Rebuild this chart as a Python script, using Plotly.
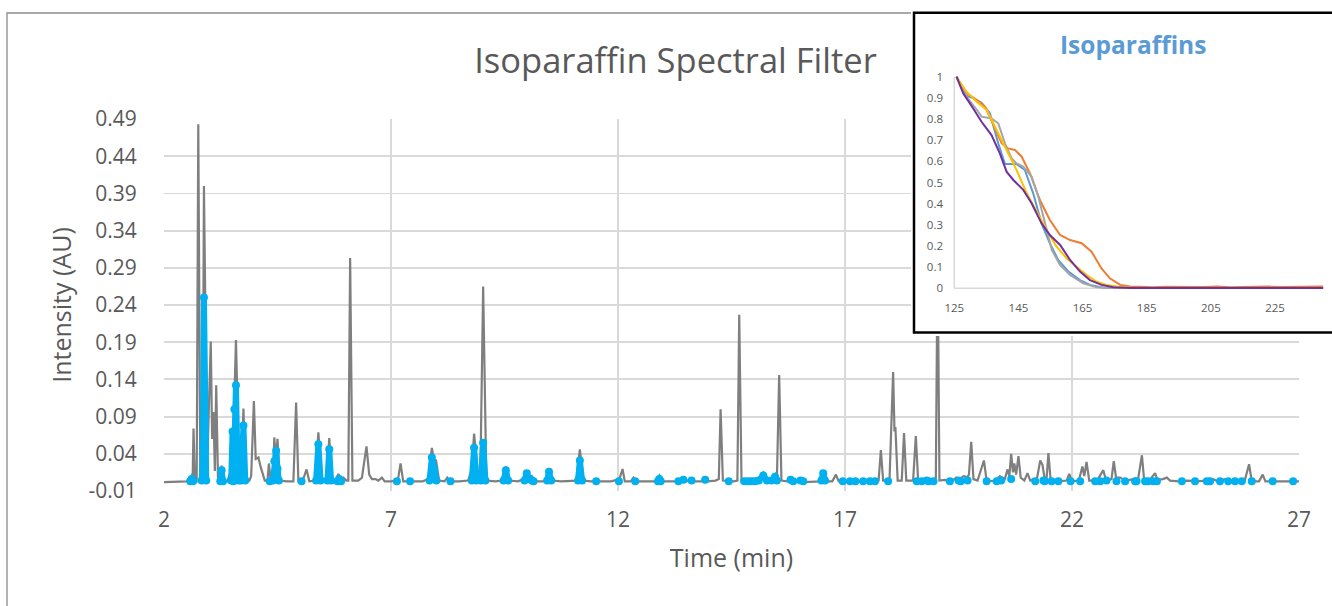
import plotly.graph_objects as go

W, H = 1332, 606

# ---------------- main chromatogram (gray, total signal) ----------------
gray_time = [
    2.00, 2.30, 2.50, 2.56, 2.60, 2.63, 2.65, 2.68, 2.72, 2.755, 2.80, 2.85, 2.88, 2.95,
    3.03, 3.06, 3.09, 3.12, 3.15, 3.19, 3.23, 3.27, 3.31, 3.40, 3.44, 3.48, 3.50, 3.585,
    3.66, 3.70, 3.75, 3.80, 3.88, 3.92, 3.98, 4.02, 4.08, 4.13, 4.18, 4.22, 4.28, 4.31,
    4.35, 4.40, 4.43, 4.46, 4.50, 4.55, 4.70, 4.85, 4.91, 4.96, 5.05, 5.14, 5.20, 5.33,
    5.40, 5.47, 5.58, 5.64, 5.70, 5.78, 5.84, 5.89, 5.95, 6.02, 6.06, 6.10, 6.15, 6.28,
    6.36, 6.46, 6.52, 6.58, 6.66, 6.72, 6.80, 6.86, 7.00, 7.15, 7.21, 7.27, 7.40, 7.55,
    7.70, 7.82, 7.90, 7.95, 7.99, 8.06, 8.18, 8.24, 8.30, 8.50, 8.70, 8.78, 8.83, 8.92,
    8.97, 9.03, 9.10, 9.30, 9.45, 9.53, 9.60, 9.80, 9.92, 9.99, 10.05, 10.10, 10.18, 10.35,
    10.42, 10.48, 10.55, 10.75, 10.95, 11.08, 11.16, 11.24, 11.40, 11.60, 11.85, 12.03, 12.10, 12.15,
    12.28, 12.34, 12.40, 12.60, 12.84, 12.91, 12.97, 13.20, 13.38, 13.44, 13.50, 13.62, 13.68, 13.85,
    13.92, 13.98, 14.15, 14.22, 14.26, 14.31, 14.55, 14.63, 14.67, 14.72, 14.85, 15.00, 15.13, 15.20,
    15.27, 15.40, 15.46, 15.50, 15.55, 15.60, 15.72, 15.79, 15.85, 15.95, 16.01, 16.10, 16.30, 16.45,
    16.52, 16.58, 16.72, 16.80, 16.86, 17.00, 17.30, 17.60, 17.74, 17.79, 17.84, 17.98, 18.06, 18.09,
    18.11, 18.16, 18.25, 18.30, 18.35, 18.50, 18.56, 18.61, 18.70, 18.85, 18.95, 19.00, 19.04, 19.08,
    19.20, 19.35, 19.45, 19.52, 19.62, 19.69, 19.73, 19.78, 19.83, 19.92, 20.06, 20.12, 20.30, 20.41,
    20.52, 20.58, 20.62, 20.66, 20.70, 20.73, 20.77, 20.82, 20.87, 20.95, 21.02, 21.08, 21.15, 21.22,
    21.30, 21.35, 21.40, 21.44, 21.48, 21.53, 21.70, 21.88, 21.94, 22.00, 22.15, 22.23, 22.27, 22.32,
    22.38, 22.55, 22.69, 22.75, 22.87, 22.92, 22.97, 23.06, 23.12, 23.20, 23.35, 23.45, 23.54, 23.59,
    23.70, 23.83, 23.88, 24.00, 24.09, 24.16, 24.35, 24.55, 24.75, 24.95, 25.11, 25.20, 25.37, 25.50,
    25.65, 25.80, 25.90, 25.96, 26.12, 26.20, 26.26, 26.50, 26.75, 27.00,
]
gray_intensity = [
    0.002, 0.002, 0.003, 0.008, 0.004, 0.003, 0.074, 0.003, 0.003, 0.483, 0.004, 0.005, 0.400, 0.020,
    0.191, 0.060, 0.096, 0.017, 0.132, 0.004, 0.004, 0.024, 0.003, 0.003, 0.012, 0.003, 0.004, 0.193,
    0.004, 0.004, 0.101, 0.004, 0.004, 0.010, 0.111, 0.033, 0.035, 0.022, 0.012, 0.004, 0.004, 0.027,
    0.004, 0.010, 0.062, 0.030, 0.060, 0.004, 0.003, 0.003, 0.109, 0.003, 0.003, 0.019, 0.003, 0.004,
    0.069, 0.004, 0.004, 0.061, 0.004, 0.005, 0.013, 0.006, 0.008, 0.004, 0.004, 0.303, 0.004, 0.004,
    0.008, 0.050, 0.012, 0.006, 0.006, 0.004, 0.008, 0.003, 0.003, 0.004, 0.027, 0.003, 0.003, 0.003,
    0.003, 0.006, 0.048, 0.030, 0.032, 0.004, 0.003, 0.008, 0.003, 0.003, 0.004, 0.020, 0.067, 0.010,
    0.020, 0.265, 0.004, 0.003, 0.004, 0.023, 0.004, 0.003, 0.006, 0.017, 0.008, 0.010, 0.003, 0.003,
    0.006, 0.020, 0.004, 0.003, 0.003, 0.004, 0.046, 0.004, 0.003, 0.003, 0.003, 0.006, 0.0195, 0.003,
    0.003, 0.008, 0.003, 0.003, 0.003, 0.008, 0.003, 0.003, 0.003, 0.007, 0.003, 0.006, 0.003, 0.003,
    0.008, 0.003, 0.004, 0.006, 0.100, 0.004, 0.003, 0.004, 0.227, 0.004, 0.003, 0.003, 0.005, 0.011,
    0.004, 0.005, 0.010, 0.005, 0.146, 0.004, 0.003, 0.007, 0.003, 0.003, 0.005, 0.002, 0.003, 0.003,
    0.017, 0.003, 0.003, 0.012, 0.003, 0.002, 0.003, 0.002, 0.004, 0.045, 0.004, 0.004, 0.150, 0.070,
    0.076, 0.004, 0.004, 0.068, 0.004, 0.004, 0.064, 0.005, 0.004, 0.004, 0.006, 0.004, 0.310, 0.004,
    0.005, 0.003, 0.008, 0.006, 0.010, 0.008, 0.012, 0.056, 0.006, 0.004, 0.031, 0.004, 0.003, 0.010,
    0.006, 0.019, 0.010, 0.040, 0.015, 0.027, 0.012, 0.037, 0.008, 0.004, 0.014, 0.004, 0.006, 0.004,
    0.031, 0.025, 0.006, 0.006, 0.041, 0.004, 0.003, 0.004, 0.013, 0.003, 0.004, 0.023, 0.010, 0.029,
    0.004, 0.004, 0.018, 0.004, 0.006, 0.030, 0.008, 0.008, 0.006, 0.004, 0.006, 0.004, 0.038, 0.004,
    0.004, 0.014, 0.005, 0.006, 0.008, 0.004, 0.003, 0.004, 0.003, 0.004, 0.006, 0.003, 0.006, 0.003,
    0.003, 0.003, 0.026, 0.003, 0.003, 0.012, 0.003, 0.003, 0.003, 0.003,
]

# ---------------- isoparaffin-filtered signal (blue, gaps = None) ----------------
blue_time = [
    2.58, 2.61, 2.64, None,
    2.83, 2.86, 2.88, 2.90, 2.93, None,
    3.24, 3.27, 3.30, None,
    3.48, 3.51, 3.53, 3.55, 3.585, 3.62, 3.64, None,
    3.70, 3.75, 3.79, None,
    4.33, None,
    4.40, 4.43, 4.47, 4.50, 4.53, None,
    5.03, None,
    5.35, 5.40, 5.45, None,
    5.60, 5.64, 5.68, None,
    5.82, 5.86, 5.90, None,
    7.13, None, 7.42, None,
    7.85, 7.90, 7.95, 8.00, None,
    8.31, None,
    8.78, 8.83, 8.88, None,
    8.98, 9.03, 9.08, None,
    9.48, 9.53, 9.58, None,
    9.94, 9.99, 10.05, 10.10, 10.14, None,
    10.44, 10.48, 10.53, None,
    11.12, 11.16, 11.21, None,
    11.52, None, 12.02, None, 12.38, None,
    12.88, 12.91, 12.94, None,
    13.33, None, 13.44, None, 13.62, None, 13.92, None, 14.44, None,
    14.78, 14.86, 14.94, 15.02, 15.10, 15.20, 15.28, None,
    15.38, 15.46, 15.50, None,
    15.80, 15.86, None, 16.02, 16.08, None,
    16.48, 16.52, 16.56, None,
    16.95, None, 17.11, None, 17.23, None, 17.40, None, 17.55, None, 17.66, None, 17.95, None,
    18.58, None, 18.69, None, 18.80, 18.84, None, 18.95, None,
    19.31, None, 19.50, 19.55, None, 19.70, None, 20.12, None, 20.34, None, 20.44, None,
    20.66, None, 21.19, None, 21.37, 21.40, None, 21.55, None, 21.70, None, 21.97, None,
    22.18, None, 22.51, None, 22.62, None, 22.76, None, 22.98, None, 23.17, None,
    23.39, 23.42, None, 23.61, 23.68, None, 23.79, 23.87, None, 24.42, None, 24.71, None,
    24.97, 25.04, None, 25.26, None, 25.44, None, 25.59, None, 25.74, None, 25.96, None,
    26.42, None, 26.87,
]
blue_intensity = [
    0.003, 0.006, 0.003, None,
    0.004, 0.050, 0.250, 0.050, 0.004, None,
    0.003, 0.018, 0.003, None,
    0.004, 0.070, 0.003, 0.100, 0.132, 0.020, 0.004, None,
    0.004, 0.078, 0.004, None,
    0.003, None,
    0.004, 0.030, 0.044, 0.020, 0.004, None,
    0.003, None,
    0.004, 0.053, 0.004, None,
    0.004, 0.046, 0.004, None,
    0.003, 0.006, 0.003, None,
    0.003, None, 0.003, None,
    0.004, 0.035, 0.020, 0.004, None,
    0.003, None,
    0.004, 0.048, 0.004, None,
    0.004, 0.055, 0.004, None,
    0.004, 0.018, 0.004, None,
    0.004, 0.014, 0.006, 0.004, 0.003, None,
    0.004, 0.016, 0.004, None,
    0.004, 0.031, 0.004, None,
    0.003, None, 0.003, None, 0.003, None,
    0.003, 0.006, 0.003, None,
    0.003, None, 0.005, None, 0.004, None, 0.005, None, 0.003, None,
    0.003, 0.003, 0.003, 0.003, 0.004, 0.011, 0.004, None,
    0.004, 0.009, 0.004, None,
    0.005, 0.003, None, 0.004, 0.003, None,
    0.004, 0.014, 0.004, None,
    0.003, None, 0.003, None, 0.003, None, 0.003, None, 0.003, None, 0.003, None, 0.003, None,
    0.003, None, 0.003, None, 0.004, 0.003, None, 0.003, None,
    0.003, None, 0.004, 0.003, None, 0.004, None, 0.003, None, 0.003, None, 0.004, None,
    0.006, None, 0.003, None, 0.004, 0.003, None, 0.003, None, 0.003, None, 0.003, None,
    0.003, None, 0.003, None, 0.003, None, 0.004, None, 0.003, None, 0.003, None,
    0.003, 0.003, None, 0.003, 0.003, None, 0.003, 0.003, None, 0.003, None, 0.003, None,
    0.003, 0.003, None, 0.003, None, 0.003, None, 0.003, None, 0.003, None, 0.003, None,
    0.003, None, 0.003,
]

x_tick_vals = [2, 7, 12, 17, 22, 27]
y_tick_vals = [0.49, 0.44, 0.39, 0.34, 0.29, 0.24, 0.19, 0.14, 0.09, 0.04, -0.01]
y_tick_text = ["0.49", "0.44", "0.39", "0.34", "0.29", "0.24", "0.19", "0.14", "0.09", "0.04", "-0.01"]

# ---------------- inset: normalised isoparaffin spectra ----------------
inset_x_ticks = [125, 145, 165, 185, 205, 225]
inset_y_ticks = [0, 0.1, 0.2, 0.3, 0.4, 0.5, 0.6, 0.7, 0.8, 0.9, 1]
inset_y_text = ["0", "0.1", "0.2", "0.3", "0.4", "0.5", "0.6", "0.7", "0.8", "0.9", "1"]

spec_blue_x = [125.7, 128.3, 130.4, 133.5, 136.1, 138.7, 140.8, 144.4, 147.0, 149.6, 152.2, 154.8,
               157.4, 160.6, 164.2, 167.3, 171.5, 175, 185, 200, 220, 240]
spec_blue_y = [1.0, 0.913, 0.902, 0.877, 0.827, 0.685, 0.587, 0.587, 0.559, 0.449, 0.307, 0.213,
               0.134, 0.079, 0.039, 0.016, 0.003, 0.002, 0.002, 0.002, 0.002, 0.002]

spec_orange_x = [125.7, 128.3, 132.0, 134.6, 137.2, 139.8, 141.8, 143.9, 146.0, 148.6, 151.7, 154.8,
                 158.0, 161.1, 164.7, 167.8, 170.9, 173.5, 176.7, 179.8, 183, 187, 191, 195, 199,
                 203, 207, 211, 215, 219, 223, 227, 231, 235, 240]
spec_orange_y = [1.0, 0.929, 0.890, 0.858, 0.772, 0.685, 0.661, 0.654, 0.622, 0.543, 0.417, 0.323,
                 0.252, 0.228, 0.213, 0.173, 0.094, 0.047, 0.016, 0.009, 0.007, 0.005, 0.007, 0.005, 0.006,
                 0.006, 0.008, 0.005, 0.007, 0.006, 0.008, 0.006, 0.007, 0.006, 0.008]

spec_gray_x = [125.7, 128.8, 132.0, 133.5, 136.6, 138.7, 140.8, 142.9, 144.4, 146.5, 149.1, 151.2,
               153.3, 155.4, 158.0, 161.1, 165.2, 169.4, 174, 185, 200, 220, 240]
spec_gray_y = [1.0, 0.906, 0.843, 0.811, 0.803, 0.780, 0.685, 0.614, 0.590, 0.575, 0.528, 0.433,
               0.307, 0.181, 0.110, 0.063, 0.024, 0.005, 0.002, 0.002, 0.002, 0.002, 0.002]

spec_yellow_x = [125.7, 128.8, 132.0, 135.1, 138.2, 141.3, 144.4, 147.6, 150.7, 153.8, 156.9, 160.0,
                 163.1, 166.3, 169.4, 172.5, 175.6, 180, 190, 205, 220, 240]
spec_yellow_y = [1.0, 0.929, 0.882, 0.843, 0.748, 0.654, 0.559, 0.449, 0.362, 0.276, 0.197, 0.142,
                 0.102, 0.063, 0.031, 0.016, 0.008, 0.003, 0.002, 0.002, 0.002, 0.002]

spec_purple_x = [125.7, 127.8, 130.9, 133.5, 136.6, 139.2, 141.3, 143.4, 146.5, 149.1, 152.2, 154.8,
                 158.0, 161.1, 164.2, 167.3, 170.9, 174.6, 180, 190, 205, 220, 240]
spec_purple_y = [1.0, 0.921, 0.850, 0.787, 0.724, 0.638, 0.551, 0.512, 0.465, 0.402, 0.307, 0.252,
                 0.205, 0.134, 0.079, 0.039, 0.016, 0.005, 0.002, 0.002, 0.002, 0.002, 0.002]

# ---------------- layout geometry (pixels) ----------------
FONT = "Open Sans"
TXT = "#595959"
GRID = "#d9d9d9"

def pxx(px):
    return px / W

def pxy(py):
    return 1 - py / H

# main plot area
M_LEFT, M_RIGHT, M_TOP, M_BOTTOM = 164, 1299, 119, 491

# inset: pixel position of data reference points
I_X125, I_X225 = 954.3, 1275.0
I_Y1, I_Y0 = 76.7, 288.3
sx = (I_X225 - I_X125) / 100.0
sy = (I_Y0 - I_Y1) / 1.0
I_DOM_L, I_DOM_R, I_DOM_T, I_DOM_B = 911, 1332, 10, 336

def ix(px):
    return 125 + (px - I_X125) / sx

def iy(py):
    return (I_Y0 - py) / sy

fig = go.Figure()

fig.add_trace(go.Scatter(
    x=gray_time, y=gray_intensity, mode="lines",
    line=dict(color="#7f7f7f", width=2.2), hoverinfo="skip", showlegend=False,
    xaxis="x", yaxis="y"))
fig.add_trace(go.Scatter(
    x=blue_time, y=blue_intensity, mode="lines+markers",
    line=dict(color="#00b0f0", width=6), marker=dict(color="#00b0f0", size=8),
    connectgaps=False, hoverinfo="skip", showlegend=False,
    xaxis="x", yaxis="y"))

spectra = [
    (spec_blue_x, spec_blue_y, "#5b9bd5"),
    (spec_orange_x, spec_orange_y, "#ed7d31"),
    (spec_gray_x, spec_gray_y, "#a5a5a5"),
    (spec_yellow_x, spec_yellow_y, "#ffc000"),
    (spec_purple_x, spec_purple_y, "#7030a0"),
]
for sxv, syv, col in spectra:
    fig.add_trace(go.Scatter(
        x=sxv, y=syv, mode="lines", line=dict(color=col, width=2),
        hoverinfo="skip", showlegend=False, xaxis="x2", yaxis="y2"))

inset_xmax = max(max(s[0]) for s in spectra)

shapes = [
    # outer chart frame
    dict(type="rect", xref="paper", yref="paper",
         x0=pxx(7), x1=1.2, y0=-0.3, y1=pxy(13),
         line=dict(color="#8c8c8c", width=1.3), fillcolor="rgba(0,0,0,0)", layer="below"),
    # inset white box (drawn in the inset subplot, above the main traces)
    dict(type="rect", xref="x2", yref="y2",
         x0=ix(914), x1=ix(1360), y0=iy(332.5), y1=iy(12.7),
         line=dict(color="#000000", width=2.5), fillcolor="#ffffff", layer="below"),
    # inset axis lines
    dict(type="line", xref="x2", yref="y2",
         x0=inset_x_ticks[0], x1=inset_x_ticks[0], y0=inset_y_ticks[0], y1=inset_y_ticks[-1],
         line=dict(color=GRID, width=1.5), layer="below"),
    dict(type="line", xref="x2", yref="y2",
         x0=inset_x_ticks[0], x1=inset_xmax, y0=0, y1=0,
         line=dict(color=GRID, width=1.5), layer="below"),
]

fig.update_layout(
    template="none",
    width=W, height=H,
    margin=dict(l=0, r=0, t=0, b=0, pad=0, autoexpand=False),
    paper_bgcolor="white", plot_bgcolor="white",
    font=dict(family=FONT, color=TXT),
    title=dict(text="Isoparaffin Spectral Filter", x=pxx(675.5), y=pxy(61),
               xref="paper", yref="paper", xanchor="center", yanchor="middle",
               automargin=False,
               font=dict(family=FONT, size=34.5, color=TXT)),
    xaxis=dict(domain=[pxx(M_LEFT), pxx(M_RIGHT)], range=[2, 27], automargin=False,
               tickvals=x_tick_vals, ticktext=[str(v) for v in x_tick_vals],
               showgrid=True, gridcolor=GRID, gridwidth=1.8, zeroline=False, showline=False,
               ticks="outside", ticklen=10, tickcolor="rgba(0,0,0,0)",
               tickfont=dict(family=FONT, size=21, color=TXT),
               title=dict(text="Time (min)", font=dict(family=FONT, size=25, color=TXT), standoff=17),
               anchor="y"),
    yaxis=dict(domain=[pxy(M_BOTTOM), pxy(M_TOP)], range=[-0.01, 0.49], automargin=False,
               tickvals=y_tick_vals, ticktext=y_tick_text,
               showgrid=True, gridcolor=GRID, gridwidth=1.8, zeroline=False, showline=False,
               ticks="outside", ticklen=22, tickcolor="rgba(0,0,0,0)",
               tickfont=dict(family=FONT, size=21, color=TXT),
               title=dict(text="Intensity (AU)", font=dict(family=FONT, size=25, color=TXT), standoff=9),
               anchor="x"),
    xaxis2=dict(domain=[pxx(I_DOM_L), pxx(I_DOM_R)], automargin=False,
                range=[ix(I_DOM_L), ix(I_DOM_R)],
                anchor="free", position=pxy(I_Y0),
                tickvals=inset_x_ticks, ticktext=[str(v) for v in inset_x_ticks],
                showgrid=False, zeroline=False, showline=False,
                ticks="outside", ticklen=9, tickcolor="rgba(0,0,0,0)",
                tickfont=dict(family=FONT, size=11.5, color=TXT)),
    yaxis2=dict(domain=[pxy(I_DOM_B), pxy(I_DOM_T)], automargin=False,
                range=[iy(I_DOM_B), iy(I_DOM_T)],
                anchor="free", position=pxx(I_X125),
                tickvals=inset_y_ticks, ticktext=inset_y_text,
                showgrid=False, zeroline=False, showline=False,
                ticks="outside", ticklen=9, tickcolor="rgba(0,0,0,0)",
                tickfont=dict(family=FONT, size=11.5, color=TXT)),
    shapes=shapes,
    annotations=[dict(text="<b>Isoparaffins</b>", xref="paper", yref="paper",
                      x=pxx(1133), y=pxy(45), xanchor="center", yanchor="middle",
                      showarrow=False, font=dict(family=FONT, size=24.5, color="#5b9bd5"))],
)

fig.write_html("out.html",
               config={"displayModeBar": False, "staticPlot": True},
               post_script="document.body.style.margin='0px';document.body.style.padding='0px';"
                           "document.body.style.overflow='hidden';")
